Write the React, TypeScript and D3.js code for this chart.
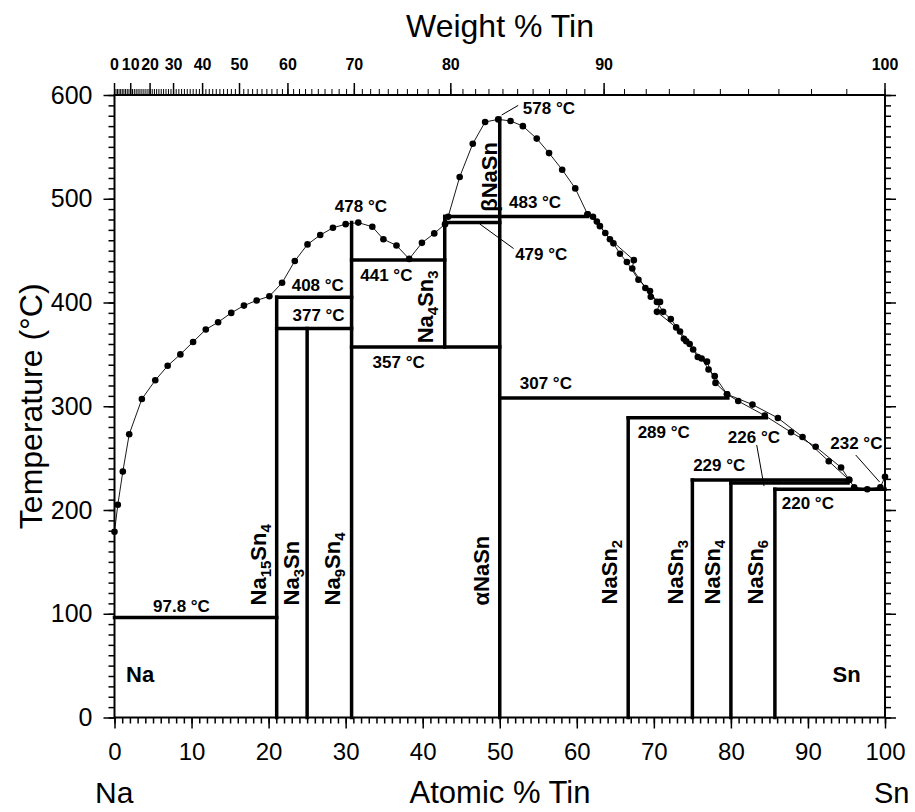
import { useEffect, useRef } from 'react'
import * as d3 from 'd3'

const W = 915
const H = 812
const FONT = 'Liberation Sans, Arial, Helvetica, sans-serif'

// liquidus measurements, [atomic % Sn, temperature °C]
const liquidusMain: [number, number][] = [
  [0, 179], [0.43, 205], [1.08, 237], [1.91, 273], [3.55, 307], [5.29, 325], [6.9, 339],
  [8.55, 350], [10.2, 362], [11.85, 374], [13.45, 381], [15.15, 390], [16.8, 397],
  [18.45, 402], [20.1, 406], [21.75, 419], [23.4, 440], [25.05, 456], [26.7, 465],
  [28.35, 472], [30.0, 475.5], [31.64, 477], [33.46, 473], [34.9, 461], [36.6, 455],
  [38.25, 442], [39.9, 457.5], [41.5, 466.6], [42.9, 475.5], [43.3, 482.6], [44.8, 521],
  [46.5, 553], [48.1, 574], [49.8, 576.5], [51.4, 575], [53.0, 570], [54.8, 558],
  [56.4, 544], [58.1, 528], [59.8, 510], [61.4, 485], [62.6, 478], [63.7, 467],
  [64.75, 457], [65.6, 447], [66.5, 439], [68.0, 422], [69.5, 411], [70.4, 400.6],
  [71.2, 391], [72.2, 384], [73.4, 372], [74.65, 360], [75.7, 347.5], [76.9, 343],
  [78.0, 322.5], [79.5, 311.6], [80.95, 305], [84.4, 291], [87.8, 275], [91.0, 261],
  [94.3, 241], [95.35, 229], [96.0, 222], [97.7, 220], [99.4, 222], [100, 232],
]

const liquidusExtra: [number, number][] = [
  [61.4, 485], [62.1, 482.6], [63.0, 473.6], [64.3, 461], [67.4, 440.8], [67.2, 432.8],
  [68.9, 414], [69.6, 405.5], [70.8, 400.6], [70.4, 391], [72.9, 376], [73.9, 365],
  [74.2, 362.7], [75.1, 354.7], [76.2, 346], [77.1, 335.4], [77.9, 329], [79.5, 311.6],
  [82.8, 301.6], [86.1, 288.7], [89.3, 270.4], [92.7, 247], [95.35, 229],
]

// phase boundaries
const verticals = [
  { x: 21.05, t0: 0, t1: 405 },
  { x: 25, t0: 0, t1: 375 },
  { x: 30.77, t0: 0, t1: 477 },
  { x: 42.86, t0: 357, t1: 483 },
  { x: 50, t0: 0, t1: 577.5 },
  { x: 66.67, t0: 0, t1: 289 },
  { x: 75, t0: 0, t1: 229 },
  { x: 80, t0: 0, t1: 226 },
  { x: 85.71, t0: 0, t1: 220 },
]

const horizontals = [
  { t: 96.5, x0: 0, x1: 21.05 },
  { t: 405, x0: 21.05, x1: 30.77 },
  { t: 375, x0: 21.05, x1: 30.77 },
  { t: 441, x0: 30.77, x1: 42.86 },
  { t: 357, x0: 30.77, x1: 50 },
  { t: 477, x0: 42.86, x1: 50 },
  { t: 483, x0: 42.86, x1: 61.4 },
  { t: 308, x0: 50, x1: 79.6 },
  { t: 289, x0: 66.67, x1: 84.6 },
  { t: 229, x0: 75, x1: 95.4 },
  { t: 226, x0: 80, x1: 95.2 },
  { t: 220, x0: 85.71, x1: 100 },
]

const tempLabels = [
  { text: '97.8 °C', x: 5.0, t: 102 },
  { text: '408 °C', x: 23.0, t: 411 },
  { text: '377 °C', x: 23.1, t: 382 },
  { text: '478 °C', x: 28.6, t: 487 },
  { text: '441 °C', x: 31.9, t: 421 },
  { text: '357 °C', x: 33.5, t: 337 },
  { text: '578 °C', x: 53.0, t: 582 },
  { text: '483 °C', x: 51.2, t: 491 },
  { text: '479 °C', x: 52.0, t: 441 },
  { text: '307 °C', x: 52.6, t: 317 },
  { text: '289 °C', x: 67.9, t: 269 },
  { text: '226 °C', x: 79.6, t: 265 },
  { text: '229 °C', x: 75.1, t: 238 },
  { text: '232 °C', x: 92.9, t: 258.5 },
  { text: '220 °C', x: 86.6, t: 201 },
]

const leaders = [
  { x0: 50.25, t0: 580.7, x1: 52.4, t1: 590 },
  { x0: 47.4, t0: 475.7, x1: 51.8, t1: 452 },
  { x0: 83.35, t0: 262.7, x1: 84.3, t1: 223 },
  { x0: 96.2, t0: 253, x1: 99.3, t1: 227 },
]

// rotated compound names: [text, isSubscript]
const phaseLabels: { parts: [string, boolean][]; x: number; t: number }[] = [
  { parts: [['Na', false], ['15', true], ['Sn', false], ['4', true]], x: 19.66, t: 108 },
  { parts: [['Na', false], ['3', true], ['Sn', false]], x: 23.98, t: 108 },
  { parts: [['Na', false], ['9', true], ['Sn', false], ['4', true]], x: 29.27, t: 108 },
  { parts: [['αNaSn', false]], x: 48.64, t: 108 },
  { parts: [['NaSn', false], ['2', true]], x: 65.18, t: 109 },
  { parts: [['NaSn', false], ['3', true]], x: 73.78, t: 109 },
  { parts: [['NaSn', false], ['4', true]], x: 78.58, t: 109 },
  { parts: [['NaSn', false], ['6', true]], x: 84.17, t: 109 },
  { parts: [['βNaSn', false]], x: 49.6, t: 487.5 },
  { parts: [['Na', false], ['4', true], ['Sn', false], ['3', true]], x: 41.38, t: 360.7 },
]

const elementLabels = [
  { text: 'Na', x: 1.5, t: 34.5 },
  { text: 'Sn', x: 93.2, t: 34.2 },
]

const atomicMajor = d3.range(0, 101, 10)
const atomicMinor = d3.range(0, 101, 1)
const tempMajor = d3.range(0, 601, 100)
const tempMinor = d3.range(0, 601, 10)
const weightMajor = d3.range(0, 101, 10)
const weightMinor = d3.range(0, 101, 1)

const M_NA = 22.99
const M_SN = 118.71
const wtToAt = (w: number) => {
  const a = w / M_SN
  const b = (100 - w) / M_NA
  return (100 * a) / (a + b)
}

export default function App() {
  const svgRef = useRef<SVGSVGElement | null>(null)

  useEffect(() => {
    if (!svgRef.current) return
    const svg = d3.select(svgRef.current)
    svg.selectAll('*').remove()

    const x = d3.scaleLinear().domain([0, 100]).range([114.5, 885])
    const y = d3.scaleLinear().domain([0, 600]).range([717.5, 95])
    const [xl, xr] = x.range()
    const [yb, yt] = y.range()

    const styleAxis = (g: any, size: number, weight = 'normal') => {
      g.select('.domain').remove()
      g.selectAll('line').attr('stroke', '#000').attr('stroke-width', 1.5)
      g.selectAll('text').attr('fill', '#000').attr('font-size', size).attr('font-family', FONT).attr('font-weight', weight)
    }

    // bottom axis
    svg.append('g').attr('transform', `translate(0,${yb})`)
      .call(d3.axisBottom(x).tickValues(atomicMinor).tickSize(6).tickFormat(() => ''))
      .call(g => styleAxis(g, 10))
    svg.append('g').attr('transform', `translate(0,${yb})`)
      .call(d3.axisBottom(x).tickValues(atomicMajor).tickSize(11).tickPadding(14).tickFormat(d3.format('d')))
      .call(g => styleAxis(g, 24))

    // left axis
    svg.append('g').attr('transform', `translate(${xl},0)`)
      .call(d3.axisLeft(y).tickValues(tempMinor).tickSize(6).tickFormat(() => ''))
      .call(g => styleAxis(g, 10))
    svg.append('g').attr('transform', `translate(${xl},0)`)
      .call(d3.axisLeft(y).tickValues(tempMajor).tickSize(11).tickPadding(11).tickFormat(d3.format('d')))
      .call(g => styleAxis(g, 25))

    // right axis
    svg.append('g').attr('transform', `translate(${xr},0)`)
      .call(d3.axisRight(y).tickValues(tempMinor).tickSize(6).tickFormat(() => ''))
      .call(g => styleAxis(g, 10))
    svg.append('g').attr('transform', `translate(${xr},0)`)
      .call(d3.axisRight(y).tickValues(tempMajor).tickSize(11).tickFormat(() => ''))
      .call(g => styleAxis(g, 10))

    // top axis, weight % Sn
    const top = svg.append('g')
    top.selectAll('line.minor').data(weightMinor).join('line')
      .attr('x1', d => x(wtToAt(d))).attr('x2', d => x(wtToAt(d)))
      .attr('y1', yt).attr('y2', yt - 6)
      .attr('stroke', '#000').attr('stroke-width', 1)
    top.selectAll('line.major').data(weightMajor).join('line')
      .attr('x1', d => x(wtToAt(d))).attr('x2', d => x(wtToAt(d)))
      .attr('y1', yt).attr('y2', yt - 12)
      .attr('stroke', '#000').attr('stroke-width', 1.5)
    top.selectAll('text').data(weightMajor).join('text')
      .attr('x', d => x(wtToAt(d))).attr('y', 70)
      .attr('text-anchor', 'middle')
      .attr('font-family', FONT).attr('font-weight', 'bold').attr('font-size', 16)
      .text(d => d)

    // frame
    svg.append('rect')
      .attr('x', xl).attr('y', yt).attr('width', xr - xl).attr('height', yb - yt)
      .attr('fill', 'none').attr('stroke', '#000').attr('stroke-width', 2)

    // phase boundaries
    const plot = svg.append('g')
    plot.selectAll('line.v').data(verticals).join('line')
      .attr('x1', d => x(d.x)).attr('x2', d => x(d.x))
      .attr('y1', d => y(d.t0)).attr('y2', d => y(d.t1))
      .attr('stroke', '#000').attr('stroke-width', 3.5).attr('stroke-linecap', 'square')
    plot.selectAll('line.h').data(horizontals).join('line')
      .attr('x1', d => x(d.x0)).attr('x2', d => x(d.x1))
      .attr('y1', d => y(d.t)).attr('y2', d => y(d.t))
      .attr('stroke', '#000').attr('stroke-width', 3.5).attr('stroke-linecap', 'square')

    // liquidus lines and points
    const line = d3.line<[number, number]>().x(d => x(d[0])).y(d => y(d[1]))
    ;[liquidusMain, liquidusExtra].forEach(series => {
      plot.append('path').datum(series)
        .attr('d', line).attr('fill', 'none').attr('stroke', '#000').attr('stroke-width', 0.9)
      plot.append('g').selectAll('circle').data(series).join('circle')
        .attr('cx', d => x(d[0])).attr('cy', d => y(d[1])).attr('r', 3.3).attr('fill', '#000')
    })

    // leader lines
    plot.selectAll('line.leader').data(leaders).join('line')
      .attr('x1', d => x(d.x0)).attr('x2', d => x(d.x1))
      .attr('y1', d => y(d.t0)).attr('y2', d => y(d.t1))
      .attr('stroke', '#000').attr('stroke-width', 1)

    // temperature labels
    plot.selectAll('text.temp').data(tempLabels).join('text')
      .attr('x', d => x(d.x)).attr('y', d => y(d.t))
      .attr('font-family', FONT).attr('font-weight', 'bold').attr('font-size', 17)
      .text(d => d.text)

    // compound labels, rotated
    phaseLabels.forEach(lbl => {
      const t = plot.append('text')
        .attr('transform', `translate(${x(lbl.x)},${y(lbl.t)}) rotate(-90)`)
        .attr('font-family', FONT).attr('font-weight', 'bold').attr('font-size', 22)
      let shifted = false
      lbl.parts.forEach(([s, sub]) => {
        const dy = sub && !shifted ? 5 : !sub && shifted ? -5 : 0
        shifted = sub
        t.append('tspan').attr('dy', dy).attr('font-size', sub ? 15 : 22).text(s)
      })
    })

    plot.selectAll('text.el').data(elementLabels).join('text')
      .attr('x', d => x(d.x)).attr('y', d => y(d.t))
      .attr('font-family', FONT).attr('font-weight', 'bold').attr('font-size', 22)
      .text(d => d.text)

    // axis titles
    svg.append('text').attr('x', 500).attr('y', 37).attr('text-anchor', 'middle')
      .attr('font-family', FONT).attr('font-size', 32).text('Weight % Tin')
    svg.append('text').attr('x', 500).attr('y', 803).attr('text-anchor', 'middle')
      .attr('font-family', FONT).attr('font-size', 31).text('Atomic % Tin')
    svg.append('text').attr('x', 95).attr('y', 803)
      .attr('font-family', FONT).attr('font-size', 30).text('Na')
    svg.append('text').attr('x', 874).attr('y', 803)
      .attr('font-family', FONT).attr('font-size', 29).text('Sn')
    svg.append('text')
      .attr('transform', `translate(42,${(yt + yb) / 2}) rotate(-90)`)
      .attr('text-anchor', 'middle')
      .attr('font-family', FONT).attr('font-size', 32).text('Temperature (°C)')
  }, [])

  return (
    <svg
      ref={svgRef}
      width={W}
      height={H}
      style={{ position: 'absolute', left: 0, top: 0, background: '#fff', display: 'block' }}
    />
  )
}
